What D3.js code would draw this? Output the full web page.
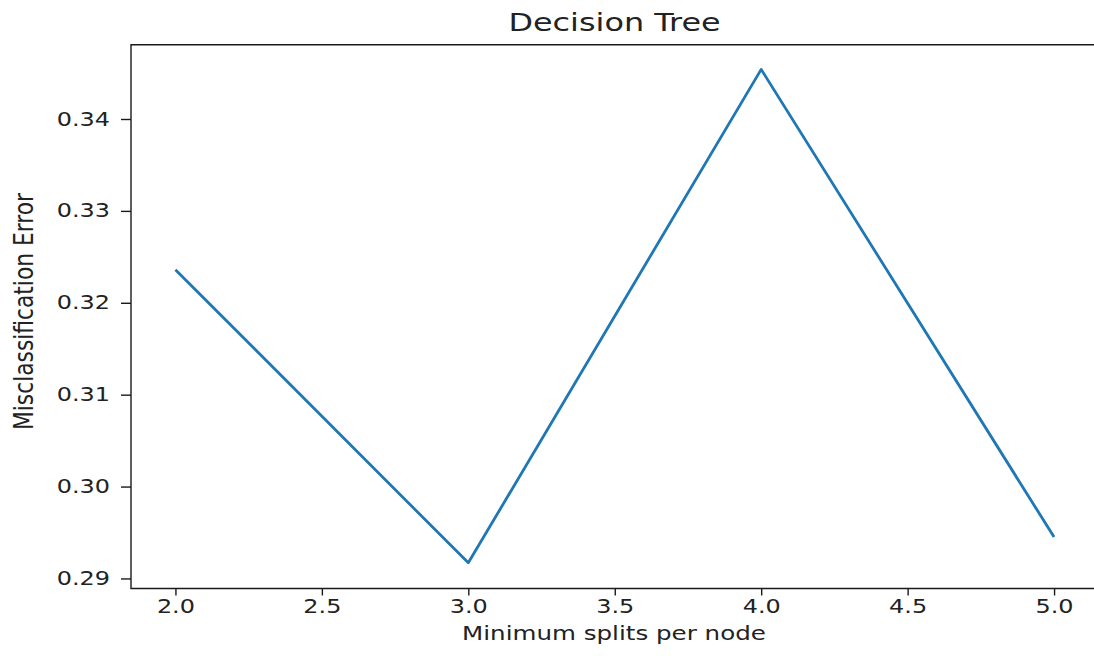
<!DOCTYPE html>
<html>
<head>
<meta charset="utf-8">
<script src="https://cdn.jsdelivr.net/npm/d3@7"></script>
<style>
  html, body { margin: 0; padding: 0; background: #fff; }
  svg { display: block; }
  text { font-family: "DejaVu Sans", sans-serif; fill: #222; }
</style>
</head>
<body>
<svg id="chart" width="1094" height="656"></svg>
<script>
// Minimum samples required to split a node vs. misclassification error
const minSplits = [2, 3, 4, 5];
const misclassError = [0.3236, 0.2917, 0.3454, 0.2945];
const xTicks = [2.0, 2.5, 3.0, 3.5, 4.0, 4.5, 5.0];
const yTicks = [0.29, 0.30, 0.31, 0.32, 0.33, 0.34];

const stretch = 1.26;          // horizontal stretch of the whole figure
const plotLeft = 131, plotRight = 1098, plotTop = 44.7, plotBottom = 588.5;

const svg = d3.select("#chart");

// 5% padding on each side of the data range
const xExt = d3.extent(minSplits), xPad = (xExt[1] - xExt[0]) * 0.05;
const yExt = d3.extent(misclassError), yPad = (yExt[1] - yExt[0]) * 0.05;

const x = d3.scaleLinear().domain([xExt[0] - xPad, xExt[1] + xPad]).range([plotLeft + 0.5, plotRight]);
const y = d3.scaleLinear().domain([yExt[0] - yPad, yExt[1] + yPad]).range([plotBottom - 1, plotTop]);

// data line
const line = d3.line().x((d, i) => x(minSplits[i])).y(d => y(d));
svg.append("path")
  .datum(misclassError)
  .attr("d", line)
  .attr("fill", "none")
  .attr("stroke", "#1f77b4")
  .attr("stroke-width", 2.8)
  .attr("stroke-linejoin", "round")
  .attr("stroke-linecap", "butt");

// frame
svg.append("path")
  .attr("d", `M${plotRight + 5},${plotTop}H${plotLeft}V${plotBottom}H${plotRight + 5}`)
  .attr("fill", "none")
  .attr("stroke", "#1a1a1a")
  .attr("stroke-width", 1.4);

// x axis
const xAxis = d3.axisBottom(x).tickValues(xTicks).tickFormat(d3.format(".1f"))
  .tickSize(7).tickPadding(4);
const gx = svg.append("g").attr("transform", `translate(0,${plotBottom})`).call(xAxis);
gx.select(".domain").remove();
gx.selectAll(".tick line").attr("stroke", "#1a1a1a").attr("stroke-width", 1.4);
gx.selectAll(".tick text")
  .attr("font-size", 19)
  .attr("font-family", "DejaVu Sans")
  .attr("fill", "#222")
  .attr("transform", `scale(${stretch},1)`);

// y axis
const yAxis = d3.axisLeft(y).tickValues(yTicks).tickFormat(d3.format(".2f"))
  .tickSize(10).tickPadding(0);
const gy = svg.append("g").attr("transform", `translate(${plotLeft},0)`).call(yAxis);
gy.select(".domain").remove();
gy.selectAll(".tick line").attr("stroke", "#1a1a1a").attr("stroke-width", 1.4);
gy.selectAll(".tick text")
  .attr("x", -21 / stretch)
  .attr("font-size", 19)
  .attr("font-family", "DejaVu Sans")
  .attr("fill", "#222")
  .attr("transform", `scale(${stretch},1)`);

// title
svg.append("text")
  .attr("transform", `translate(${(plotLeft + plotRight) / 2},31) scale(${stretch},1)`)
  .attr("text-anchor", "middle")
  .attr("font-size", 25.3)
  .text("Decision Tree");

// x label
svg.append("text")
  .attr("transform", `translate(${(plotLeft + plotRight) / 2 - 0.5},639.5) scale(${stretch},1)`)
  .attr("text-anchor", "middle")
  .attr("font-size", 19.5)
  .text("Minimum splits per node");

// y label
svg.append("text")
  .attr("transform", "translate(33,311.5) rotate(-90)")
  .attr("text-anchor", "middle")
  .attr("font-family", "Open Sans")
  .attr("font-size", 27)
  .attr("textLength", 237)
  .attr("lengthAdjust", "spacingAndGlyphs")
  .text("Misclassification Error");
</script>
</body>
</html>
